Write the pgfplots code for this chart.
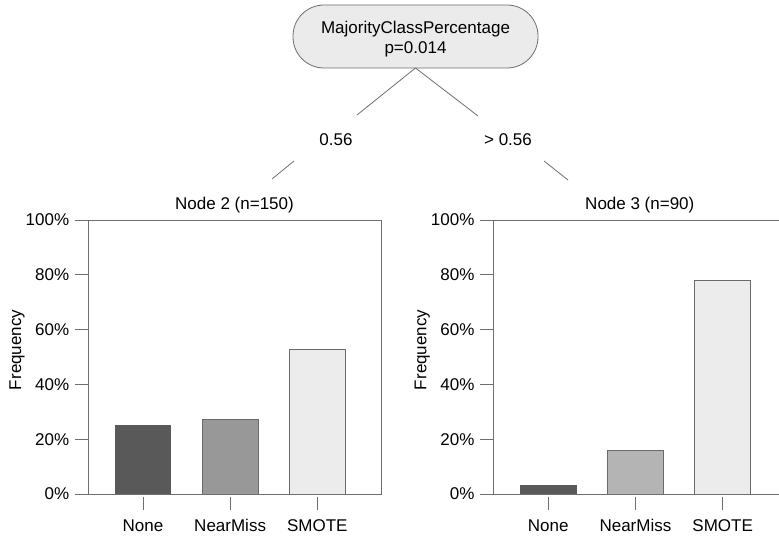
\documentclass[border=0pt]{standalone}
\usepackage{pgfplots}
\pgfplotsset{compat=1.18}
\usepackage{fontspec}
\setmainfont{Liberation Sans}
\definecolor{axgray}{HTML}{6E6E6E}
\definecolor{barline}{HTML}{6A6A6A}
\definecolor{cNone}{HTML}{595959}
\definecolor{cNearL}{HTML}{989898}
\definecolor{cNearR}{HTML}{B4B4B4}
\definecolor{cSmote}{HTML}{ECECEC}
\definecolor{nodefill}{HTML}{EBEBEB}
\pgfplotsset{
  nodeax/.style={
    scale only axis, width=293pt, height=274pt,
    xmin=-0.63, xmax=2.73, ymin=0, ymax=100,
    axis line style={draw=axgray, line width=0.8pt},
    /pgf/number format/assume math mode=true,
    ytick={0,20,40,60,80,100},
    yticklabel={\pgfmathprintnumber{\tick}\%},
    xtick={0,1,2}, xticklabels={None,NearMiss,SMOTE},
    xtick pos=bottom, ytick pos=left,
    tick align=outside, major tick length=13pt,
    xtick style={draw=axgray, line width=0.8pt, yshift=-3pt},
    ytick style={draw=axgray, line width=0.8pt},
    xticklabel style={yshift=-7pt, text height=12pt, text depth=0pt},
    ylabel={Frequency},
    every axis y label/.style={at={(axis description cs:-0.242,0.526)},rotate=90,anchor=center},
    every axis title/.style={at={(axis description cs:0.5,1)},anchor=center,yshift=15pt},
    ybar, bar width=0.64, bar shift=0pt,
    every axis plot/.append style={draw=barline, line width=0.8pt},
  }
}
\begin{document}
\fontsize{17}{20}\selectfont
\begin{tikzpicture}[x=1pt,y=1pt]
% top node
\draw[axgray, line width=0.8pt, fill=nodefill, rounded corners=31pt] (293,469) rectangle (538,532);
\node[anchor=base] at (415.5,503.8) {MajorityClassPercentage};
\node[anchor=base] at (415.5,483.8) {p=0.014};
% edges
\draw[axgray, line width=0.8pt] (415.5,469) -- (357,422);
\draw[axgray, line width=0.8pt] (415.5,469) -- (478,421);
\draw[axgray, line width=0.8pt] (294,376) -- (272,358);
\draw[axgray, line width=0.8pt] (544,376) -- (568,357);
\node[anchor=base] at (336,391) {0.56};
\node[anchor=base] at (508,391) {> 0.56};
% left node
\begin{axis}[nodeax, at={(88pt,43pt)}, anchor=south west, title={Node 2 (n=150)}]
\addplot[fill=cNone, draw=cNone] coordinates {(0,25.2)};
\addplot[fill=cNearL] coordinates {(1,27.2)};
\addplot[fill=cSmote] coordinates {(2,52.7)};
\end{axis}
% right node
\begin{axis}[nodeax, at={(493.3pt,43pt)}, anchor=south west, title={Node 3 (n=90)}]
\addplot[fill=cNone, draw=cNone] coordinates {(0,3.2)};
\addplot[fill=cNearR] coordinates {(1,16.0)};
\addplot[fill=cSmote] coordinates {(2,77.8)};
\end{axis}
\pgfresetboundingbox
\useasboundingbox (0,0) rectangle (779,537);
\end{tikzpicture}
\end{document}
